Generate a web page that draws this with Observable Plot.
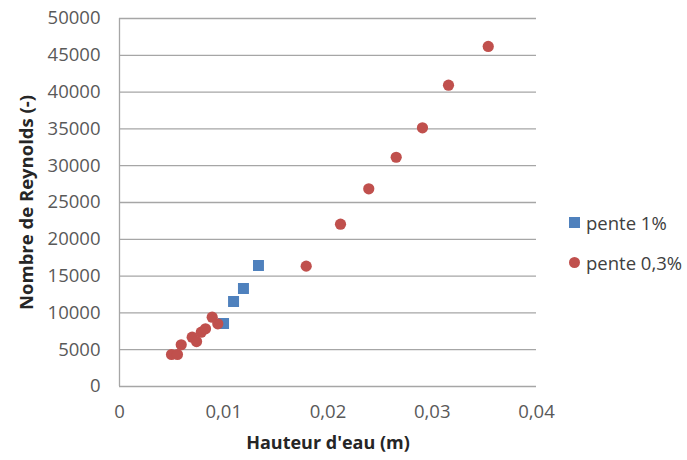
<!DOCTYPE html>
<html>
<head>
<meta charset="utf-8">
<script src="https://cdn.jsdelivr.net/npm/d3@7"></script>
<script src="https://cdn.jsdelivr.net/npm/@observablehq/plot@0.6"></script>
<style>
  html, body { margin: 0; padding: 0; background: #fff; }
  #wrap { position: relative; width: 687px; height: 460px; font-family: "Open Sans", sans-serif; }
  #legend { position: absolute; left: 569px; top: 202px; font-size: 18.5px; color: #404040; }
  #legend .item { display: flex; align-items: center; height: 40px; }
  #legend .sw { width: 11px; height: 11px; margin-right: 6px; }
</style>
</head>
<body>
<div id="wrap"><div id="legend"></div></div>
<script>
// Series "pente 1%"
const pente1_x = [0.00998, 0.01094, 0.01189, 0.01333];
const pente1_y = [8560, 11550, 13315, 16440];
// Series "pente 0,3%"
const pente03_x = [0.00499, 0.00556, 0.00592, 0.00697, 0.00739, 0.00784, 0.00825, 0.00889, 0.00943, 0.01791, 0.02120, 0.02391, 0.02654, 0.02906, 0.03156, 0.03537];
const pente03_y = [4350, 4350, 5670, 6700, 6110, 7380, 7840, 9420, 8520, 16350, 22050, 26860, 31150, 35150, 40940, 46200];
const seriesNames = ["pente 1%", "pente 0,3%"];
const seriesColors = ["#4F81BD", "#C0504D"];
const xTicks = [0, 0.01, 0.02, 0.03, 0.04];
const yTicks = [0, 5000, 10000, 15000, 20000, 25000, 30000, 35000, 40000, 45000, 50000];
const xTitle = "Hauteur d'eau (m)";
const yTitle = "Nombre de Reynolds (-)";

const s1 = pente1_x.map((x, i) => ({x, y: pente1_y[i]}));
const s2 = pente03_x.map((x, i) => ({x, y: pente03_y[i]}));
const fmt = d => String(d).replace(".", ",");

const chart = Plot.plot({
  width: 687,
  height: 460,
  marginLeft: 119,
  marginRight: 151,
  marginTop: 18,
  marginBottom: 74,
  style: {fontFamily: "Open Sans, sans-serif", fontSize: "18.5px", color: "#595959", background: "white"},
  x: {domain: [0, 0.04]},
  y: {domain: [0, 50000]},
  marks: [
    Plot.gridY(yTicks, {stroke: "#a6a6a6", strokeOpacity: 1, strokeWidth: 1.3}),
    Plot.ruleX([0], {y1: 0, y2: 50000, stroke: "#a6a6a6", strokeWidth: 1.3}),
    Plot.axisY(yTicks, {tickSize: 0, tickPadding: 19, tickFormat: d => String(d), label: null, fill: "#595959"}),
    Plot.axisX(xTicks, {tickSize: 0, tickPadding: 18, tickFormat: fmt, label: null, fill: "#595959"}),
    Plot.text([yTitle], {frameAnchor: "left", textAnchor: "middle", dx: -92, rotate: -90, fontWeight: "bold", fontSize: 18.5, fill: "#262626"}),
    Plot.text([xTitle], {frameAnchor: "bottom", textAnchor: "middle", dy: 62, fontWeight: "bold", fontSize: 18, fill: "#262626"}),
    Plot.dot(s1, {x: "x", y: "y", symbol: "square", r: 6.2, fill: seriesColors[0], stroke: "none"}),
    Plot.dot(s2, {x: "x", y: "y", symbol: "circle", r: 5.6, fill: seriesColors[1], stroke: "none"})
  ]
});
const wrap = document.getElementById("wrap");
wrap.insertBefore(chart, wrap.firstChild);

const legend = document.getElementById("legend");
seriesNames.forEach((name, i) => {
  const item = document.createElement("div");
  item.className = "item";
  const sw = document.createElement("span");
  sw.className = "sw";
  sw.style.background = seriesColors[i];
  if (i === 1) { sw.style.borderRadius = "50%"; }
  item.appendChild(sw);
  const t = document.createElement("span");
  t.textContent = name;
  item.appendChild(t);
  legend.appendChild(item);
});
</script>
</body>
</html>
